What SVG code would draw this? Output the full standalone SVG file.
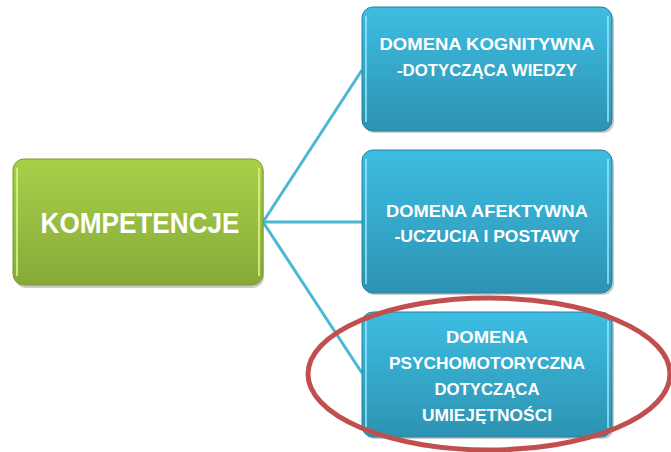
<svg xmlns="http://www.w3.org/2000/svg" width="671" height="452" viewBox="0 0 671 452">
<defs>
<linearGradient id="gGreen" x1="0" y1="0" x2="0" y2="1">
<stop offset="0" stop-color="#a9d04a"/>
<stop offset="1" stop-color="#86aa38"/>
</linearGradient>
<linearGradient id="gBlue" x1="0" y1="0" x2="0" y2="1">
<stop offset="0" stop-color="#3dbde2"/>
<stop offset="1" stop-color="#2d93b2"/>
</linearGradient>
</defs>
<style>
.shadow{fill:#6e6e6e;opacity:0.35}
.blue{fill:url(#gBlue);stroke:#2a7f9c;stroke-width:1}
.green{fill:url(#gGreen);stroke:#7a9a32;stroke-width:1}
.hiB{fill:none;stroke:#8ee6fa;stroke-width:2;opacity:0.8}
.hiG{fill:none;stroke:#dff58a;stroke-width:2;opacity:0.8}
.t{font-family:"Liberation Sans",Arial,sans-serif;font-weight:bold;fill:#ffffff;text-anchor:middle}
.tb{font-size:17px}
.tg{font-size:30px}
.conn{stroke:#4ab8d4;stroke-width:3;fill:none}
</style>
<g id="connectors">
<line class="conn" x1="263" y1="222" x2="362" y2="70"/>
<line class="conn" x1="263" y1="222" x2="362" y2="222"/>
<line class="conn" x1="263" y1="222" x2="362" y2="373"/>
</g>
<g id="kompetencje">
<rect class="shadow" x="15" y="162" width="249" height="126" rx="11"/>
<rect class="green" x="13" y="159" width="250" height="126" rx="11"/>
<line class="hiG" x1="17" y1="168" x2="17" y2="276"/>
<line class="hiG" x1="259" y1="168" x2="259" y2="276"/>
<text class="t tg" x="140" y="233" textLength="199" lengthAdjust="spacingAndGlyphs">KOMPETENCJE</text>
</g>
<g id="kognitywna">
<rect class="shadow" x="364" y="10" width="250" height="123" rx="11"/>
<rect class="blue" x="362" y="7" width="250" height="124" rx="11"/>
<line class="hiB" x1="366" y1="16" x2="366" y2="122"/>
<line class="hiB" x1="608" y1="16" x2="608" y2="122"/>
<text class="t tb" x="487" y="50" textLength="215" lengthAdjust="spacingAndGlyphs">DOMENA KOGNITYWNA</text>
<text class="t tb" x="487" y="76" textLength="180" lengthAdjust="spacingAndGlyphs">-DOTYCZĄCA WIEDZY</text>
</g>
<g id="afektywna">
<rect class="shadow" x="364" y="153" width="250" height="142" rx="11"/>
<rect class="blue" x="362" y="150" width="250" height="143" rx="11"/>
<line class="hiB" x1="366" y1="159" x2="366" y2="284"/>
<line class="hiB" x1="608" y1="159" x2="608" y2="284"/>
<text class="t tb" x="487" y="217" textLength="202" lengthAdjust="spacingAndGlyphs">DOMENA AFEKTYWNA</text>
<text class="t tb" x="487" y="242" textLength="185" lengthAdjust="spacingAndGlyphs">-UCZUCIA I POSTAWY</text>
</g>
<g id="psychomotoryczna">
<rect class="shadow" x="364" y="315" width="250" height="124" rx="11"/>
<rect class="blue" x="362" y="312" width="250" height="125" rx="11"/>
<line class="hiB" x1="366" y1="321" x2="366" y2="428"/>
<line class="hiB" x1="608" y1="321" x2="608" y2="428"/>
<text class="t tb" x="487" y="343" textLength="82" lengthAdjust="spacingAndGlyphs">DOMENA</text>
<text class="t tb" x="487" y="369" textLength="196" lengthAdjust="spacingAndGlyphs">PSYCHOMOTORYCZNA</text>
<text class="t tb" x="487" y="395" textLength="105" lengthAdjust="spacingAndGlyphs">DOTYCZĄCA</text>
<text class="t tb" x="487" y="421" textLength="130" lengthAdjust="spacingAndGlyphs">UMIEJĘTNOŚCI</text>
</g>
<g id="highlight">
<ellipse cx="489" cy="374" rx="181" ry="76" fill="none" stroke="#c0504d" stroke-width="5"/>
</g>
</svg>
